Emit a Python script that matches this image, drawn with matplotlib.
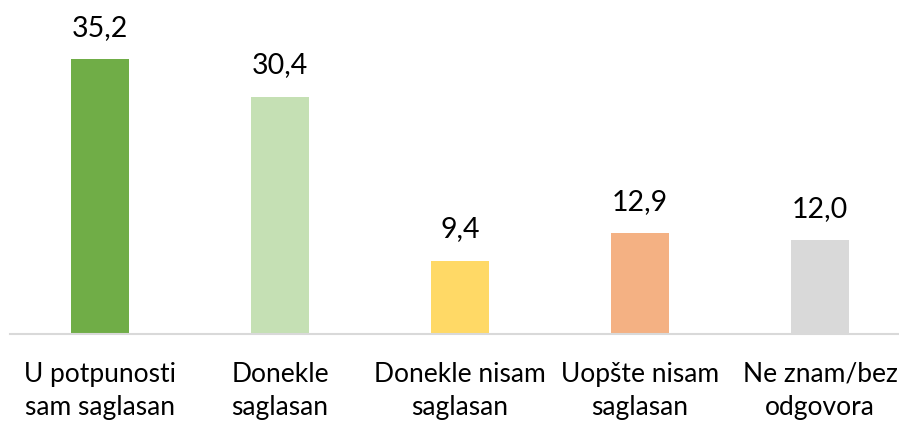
import matplotlib.pyplot as plt

# data
categories = ['U potpunosti\nsam saglasan', 'Donekle\nsaglasan', 'Donekle nisam\nsaglasan',
              'Uopšte nisam\nsaglasan', 'Ne znam/bez\nodgovora']
values = [35.2, 30.4, 9.4, 12.9, 12.0]
colors = ['#70AD47', '#C5E0B4', '#FFD966', '#F4B183', '#D9D9D9']

plt.rcParams['font.family'] = ['Lato', 'DejaVu Sans']

fig = plt.figure(figsize=(8.99, 4.21), dpi=100)
# axes run a bit past the right edge, like the cropped original
ax = fig.add_axes([10 / 899, 1 - 334 / 421, 900 / 899, 312 / 421])

x = range(len(values))
bars = ax.bar(x, values, width=0.317, color=colors)
ax.set_xlim(-0.5, len(values) - 0.5)
ax.set_ylim(0, 40)

for b, v in zip(bars, values):
    ax.text(b.get_x() + b.get_width() / 2, v + 2.4, f'{v:.1f}'.replace('.', ','),
            ha='center', va='bottom', fontsize=20.5, color='#000000')

ax.set_xticks(list(x))
ax.set_xticklabels(categories, fontsize=19, linespacing=1.4)
ax.tick_params(axis='x', length=0, pad=20)
ax.set_yticks([])
for s in ['top', 'right', 'left']:
    ax.spines[s].set_visible(False)
ax.spines['bottom'].set_color('#D9D9D9')
ax.spines['bottom'].set_linewidth(1.5)

fig.savefig('out.png', dpi=100)
